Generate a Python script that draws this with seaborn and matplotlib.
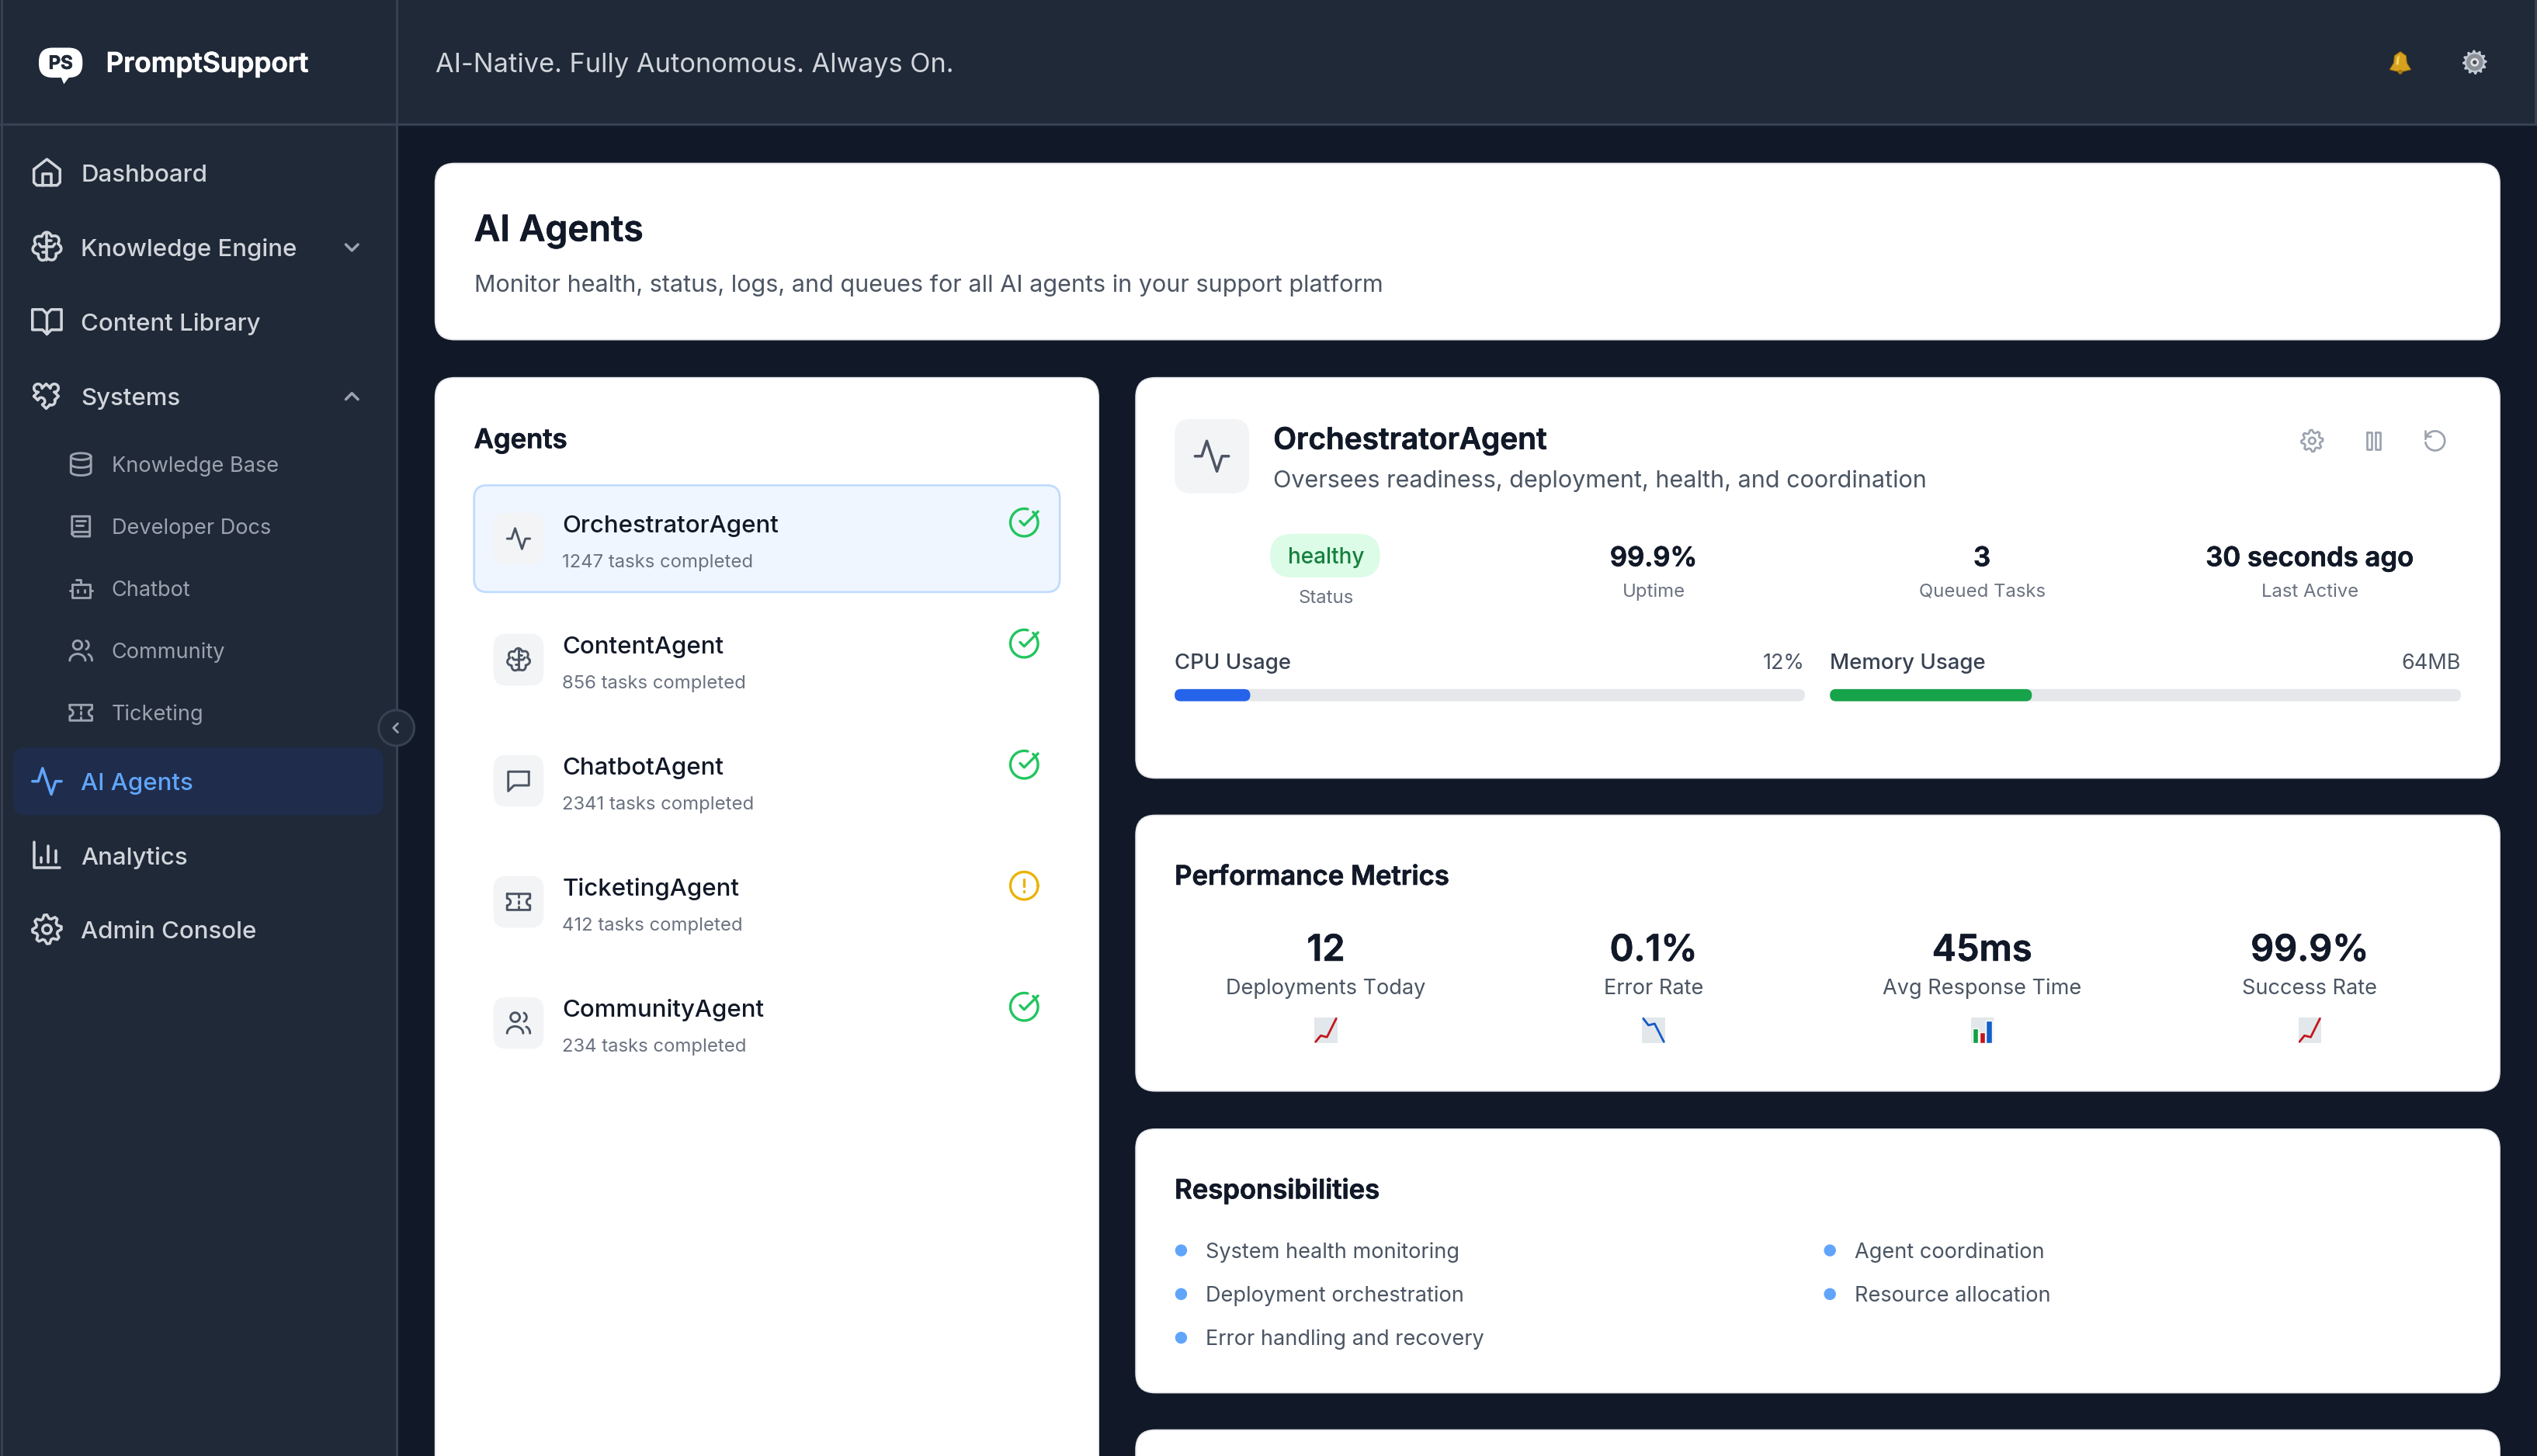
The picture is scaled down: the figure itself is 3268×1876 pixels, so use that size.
import numpy as np
import matplotlib
matplotlib.use("Agg")
import matplotlib.pyplot as plt
import matplotlib.patheffects as pe
import seaborn as sns
from matplotlib.patches import FancyBboxPatch, Circle, Polygon

# === Style Configuration ===
sns.set_theme(style="white")
plt.rcParams["font.family"] = ["Inter", "DejaVu Sans"]

# === Text and values ===
BRAND = "PromptSupport"
TAGLINE = "AI-Native. Fully Autonomous. Always On."
NAV_LABELS = ["Dashboard", "Knowledge Engine", "Content Library", "Systems"]
NAV_ICONS = ["home", "brain", "book", "puzzle"]
SUB_LABELS = ["Knowledge Base", "Developer Docs", "Chatbot", "Community", "Ticketing"]
SUB_ICONS = ["database", "docs", "bot", "users", "ticket"]
LOWER_LABELS = ["Analytics", "Admin Console"]
LOWER_ICONS = ["chart", "gear"]

AGENT_NAMES = ["OrchestratorAgent", "ContentAgent", "ChatbotAgent", "TicketingAgent", "CommunityAgent"]
AGENT_TASKS = [1247, 856, 2341, 412, 234]
AGENT_ICONS = ["activity", "brain", "chat", "ticket", "users"]
AGENT_STATES = ["ok", "ok", "ok", "warn", "ok"]

STAT_VALUES = ["99.9%", "3", "30 seconds ago"]
STAT_LABELS = ["Uptime", "Queued Tasks", "Last Active"]

USAGE_LABELS = ["CPU Usage", "Memory Usage"]
USAGE_TEXT = ["12%", "64MB"]
USAGE_PERCENT = [12, 32]
USAGE_COLORS = ["#2563eb", "#16a34a"]

METRIC_VALUES = ["12", "0.1%", "45ms", "99.9%"]
METRIC_LABELS = ["Deployments Today", "Error Rate", "Avg Response Time", "Success Rate"]
METRIC_EMOJI = ["up", "down", "bars", "up"]

EMOJI_X = [0, 25, 55, 100]
EMOJI_UP = [6, 30, 24, 96]
EMOJI_DOWN = [96, 70, 76, 6]
EMOJI_BARS = [58, 42, 88]

DUTIES_LEFT = ["System health monitoring", "Deployment orchestration", "Error handling and recovery"]
DUTIES_RIGHT = ["Agent coordination", "Resource allocation"]

# === Colours ===
SIDE_BG = "#1f2937"
PAGE_BG = "#111827"
EDGE = "#374151"
INK = "#111827"
GREY_TXT = "#4b5563"
MUTED = "#6b7280"
SUB_NAV = "#9ca3af"
NAV_TXT = "#d1d5db"
BLUE = "#60a5fa"

# The page font runs a little narrower than the Inter installed here
FIT = {11.5: 1.0, 12: 0.955, 14: 0.93, 16: 0.925, 18: 0.925, 20: 0.93, 24: 0.94}

# === Canvas: one axes in CSS pixels of the page ===
W, H = 1568, 900.1
fig = plt.figure(figsize=(32.68, 18.76), dpi=100, facecolor=PAGE_BG)
ax = fig.add_axes([0, 0, 1, 1])
ax.set_xlim(0, W)
ax.set_ylim(H, 0)
ax.axis("off")


def txt(x, y, s, size, color, weight="normal", ha="left", fit=None):
    # y is the middle of the lowercase letters, size is in CSS px
    t = ax.text(x, y + size * 0.33, s, fontsize=size * 1.5 * (fit or FIT[size]), color=color, ha=ha, va="baseline",
                fontweight=weight, zorder=6)
    if weight in ("semibold", "bold"):
        t.set_path_effects([pe.withStroke(linewidth=0.5, foreground=color)])


def box(x0, y0, x1, y1, r, fc, ec="none", lw=0, z=1):
    ax.add_patch(FancyBboxPatch((x0, y0), x1 - x0, y1 - y0, boxstyle=f"round,pad=0,rounding_size={r}",
                                fc=fc, ec=ec, lw=lw * 1.5, mutation_aspect=1, zorder=z))


def arc(cx, cy, rx, ry, a0, a1, n=40):
    t = np.radians(np.linspace(a0, a1, n))
    return np.column_stack([cx + rx * np.cos(t), cy + ry * np.sin(t)])


def gear_outline(teeth=8, r0=10, r1=7.6):
    t = np.linspace(0, 2 * np.pi, teeth * 4 + 1) - np.pi / teeth / 2
    r = np.array([r0, r0, r1, r1] * teeth + [r0])
    return np.column_stack([12 + r * np.cos(t), 12 + r * np.sin(t)])


def puzzle_outline():
    p = np.vstack([[(-6, -6), (-2.2, -6)], arc(0, -8, 2.8, 2.8, 130, 410), [(2.2, -6), (6, -6), (6, -2.2)],
                   arc(8, 0, 2.8, 2.8, -140, 140), [(6, 2.2), (6, 6), (2.2, 6)], arc(0, 5, 2.6, 2.6, 20, 160),
                   [(-2.2, 6), (-6, 6), (-6, 2.2)], arc(-5, 0, 2.6, 2.6, 70, -70), [(-6, -2.2), (-6, -6)]])
    c, s = np.cos(np.pi / 4), np.sin(np.pi / 4)
    return np.column_stack([12 + p[:, 0] * c + p[:, 1] * s - 0.5, 12 - p[:, 0] * s + p[:, 1] * c + 0.5])


def brain_outline():
    t = np.linspace(0, 2 * np.pi, 240)
    r = 7.8 + 2.2 * np.abs(np.sin(3.5 * (t + 0.25)))
    return np.column_stack([12 + r * np.cos(t), 12 + r * np.sin(t)])


# Outline icons on a 24 unit box, as in the icon set the page uses
ICONS = {
    "activity": [[(2, 12), (6, 12), (9, 3), (15, 21), (18, 12), (22, 12)]],
    "home": [[(3, 10), (12, 3), (21, 10), (21, 19), (19, 21), (5, 21), (3, 19), (3, 10)],
             [(9, 21), (9, 13), (15, 13), (15, 21)]],
    "brain": [brain_outline(), [(12, 3), (12, 21)], [(12, 12), (8, 12), (6.5, 10)], [(12, 12), (16, 12), (17.5, 10)],
              [(12, 16), (9, 16)], [(12, 8), (15, 8)]],
    "book": [[(12, 7), (9, 4), (2, 4), (2, 18), (9, 18), (12, 21), (15, 18), (22, 18), (22, 4), (15, 4), (12, 7), (12, 21)]],
    "puzzle": [puzzle_outline()],
    "database": [arc(12, 5, 9, 3, 0, 360), np.vstack([[(3, 5)], arc(12, 19, 9, 3, 180, 0), [(21, 5)]]), arc(12, 12, 9, 3, 180, 0)],
    "docs": [[(4, 19), (4, 3), (20, 3), (20, 21), (6, 21), (4, 19), (6, 17), (20, 17)], [(8, 7), (16, 7)], [(8, 11), (14, 11)]],
    "bot": [[(4, 8), (20, 8), (20, 20), (4, 20), (4, 8)], [(12, 8), (12, 4), (8, 4)], [(2, 14), (4, 14)], [(20, 14), (22, 14)],
            [(9, 13), (9, 15)], [(15, 13), (15, 15)]],
    "users": [arc(9, 7, 4, 4, 0, 360), arc(9, 21, 7, 6, 180, 360), arc(15.5, 7, 3.5, 4, -70, 70), arc(17, 21, 5, 6, -70, 0)],
    "ticket": [np.vstack([[(2, 5), (22, 5), (22, 9)], arc(22, 12, 3, 3, -90, -270), [(22, 15), (22, 19), (2, 19), (2, 15)],
                          arc(2, 12, 3, 3, 90, -90), [(2, 9), (2, 5)]]), [(12, 6), (12, 8)], [(12, 11), (12, 13)], [(12, 16), (12, 18)]],
    "chart": [[(3, 3), (3, 21), (21, 21)], [(8, 17), (8, 14)], [(13, 17), (13, 6)], [(18, 17), (18, 9)]],
    "gear": [gear_outline(), arc(12, 12, 3, 3, 0, 360)],
    "chat": [[(21, 4), (3, 4), (3, 21), (8, 16), (21, 16), (21, 4)]],
    "check": [arc(12, 12, 10, 10, -50, 285), [(9, 11), (12, 14), (22, 4)]],
    "alert": [arc(12, 12, 10, 10, 0, 360), [(12, 7.5), (12, 12.5)], [(12, 16), (12, 16.2)]],
    "pause": [[(6, 4), (10, 4), (10, 20), (6, 20), (6, 4)], [(14, 4), (18, 4), (18, 20), (14, 20), (14, 4)]],
    "rotate": [arc(12, 12, 9, 9, -170, 170), [(3, 3), (3, 8), (8, 8)]],
    "down": [[(6, 9), (12, 15), (18, 9)]],
    "upc": [[(6, 15), (12, 9), (18, 15)]],
    "left": [[(15, 6), (9, 12), (15, 18)]],
}


def icon(name, cx, cy, size, color, lw=1.7):
    k = size / 24
    for part in ICONS[name]:
        p = np.asarray(part, dtype=float)
        ax.plot(cx + (p[:, 0] - 12) * k, cy + (p[:, 1] - 12) * k, color=color, lw=lw * 1.5,
                solid_capstyle="round", solid_joinstyle="round", zorder=6)


def inset(x0, y0, x1, y1):
    a = fig.add_axes([x0 / W, 1 - y1 / H, (x1 - x0) / W, (y1 - y0) / H], zorder=5)
    a.set_facecolor("none")
    return a


def emoji_chart(kind, cx, cy):
    a = inset(cx - 7, cy - 8, cx + 7, cy + 8)
    a.set_facecolor("#e2e7eb")
    if kind == "bars":
        sns.barplot(x=list("abc"), y=EMOJI_BARS, hue=list("abc"), palette=["#12a045", "#c4161c", "#1260c8"],
                    saturation=1, width=0.8, legend=False, ax=a)
        a.set_xlim(-0.65, 2.65)
    else:
        vals = EMOJI_UP if kind == "up" else EMOJI_DOWN
        sns.lineplot(x=EMOJI_X, y=vals, color="#c4161c" if kind == "up" else "#1559c8", lw=2.0, ax=a)
        a.set_xlim(-5, 105)
    a.set_ylim(0, 100)
    a.set_xticks([])
    a.set_yticks([])
    a.set_xlabel("")
    a.set_ylabel("")
    for sp in a.spines.values():
        sp.set_visible(False)


# === Page frame ===
ax.add_patch(plt.Rectangle((0, 0), 245, H, fc=SIDE_BG, ec="none", zorder=0.5))
ax.add_patch(plt.Rectangle((245, 0), W - 245, 77, fc=SIDE_BG, ec="none", zorder=0.5))
ax.plot([245.0, 245.0], [0, H], color=EDGE, lw=2.2, zorder=1)
ax.plot([0, W], [77.0, 77.0], color=EDGE, lw=2.2, zorder=1)
ax.plot([0.8, 0.8], [0, H], color=EDGE, lw=2.2, zorder=1)
ax.plot([1567.2, 1567.2], [0, 77], color=EDGE, lw=2.2, zorder=1)

# === Brand and header ===
box(24, 29.5, 51, 48, 8.5, "white", z=3)
ax.add_patch(Polygon([(37, 46), (44, 46), (39.5, 52)], fc="white", ec="none", zorder=3))
txt(37.5, 38.8, "PS", 11.5, "#1f2937", "bold", ha="center")
txt(65.5, 38.5, BRAND, 18, "white", "semibold", fit=0.94)
txt(269, 38.5, TAGLINE, 18, NAV_TXT, fit=0.917)

# Bell emoji
ax.add_patch(Polygon([(1477, 43), (1479.5, 39), (1480, 34.5), (1483.5, 32), (1487, 34.5), (1487.5, 39), (1490, 43), (1483.5, 44.5)],
                     fc="#d6a21e", ec="#a87a10", lw=0.8, zorder=5))
ax.add_patch(Circle((1483.5, 44.5), 1.4, fc="#a87a10", ec="none", zorder=5))
ax.add_patch(Polygon([(1481.5, 35.5), (1483, 34), (1482.5, 40), (1480.8, 40)], fc="#f3d65c", ec="none", zorder=6))
# Gear emoji
gear = gear_outline(12, 11.5, 9.4)
ax.add_patch(Polygon(np.column_stack([1529.5 + (gear[:, 0] - 12) * 0.66, 38.5 + (gear[:, 1] - 12) * 0.66]), fc="#c3ccd6", ec="none", zorder=5))
ax.add_patch(Circle((1529.5, 38.5), 5.2, fc="#8b9097", ec="none", zorder=6))
ax.add_patch(Circle((1529.5, 38.5), 2.6, fc="#e2e5e8", ec="none", zorder=6))
ax.add_patch(Circle((1529.5, 38.5), 1.3, fc="#4a4d52", ec="none", zorder=6))

# === Sidebar ===
for i, (label, name) in enumerate(zip(NAV_LABELS, NAV_ICONS)):
    y = 107 + i * 46
    icon(name, 29, y - 0.5, 21.5, NAV_TXT)
    txt(50, y, label, 16, NAV_TXT, "medium", fit=0.935)
icon("down", 217.5, 153, 15, SUB_NAV)
icon("upc", 217.5, 245, 15, SUB_NAV)

for i, (label, name) in enumerate(zip(SUB_LABELS, SUB_ICONS)):
    y = 287 + i * 38.4
    icon(name, 50, y, 16.5, SUB_NAV, 1.4)
    txt(69, y, label, 14, SUB_NAV)

box(8, 462, 237, 504, 8, "#1f2c4b", z=2)
icon("activity", 29, 483, 21.5, BLUE)
txt(50, 483, "AI Agents", 16, BLUE, "medium", fit=0.935)
for i, (label, name) in enumerate(zip(LOWER_LABELS, LOWER_ICONS)):
    y = 529 + i * 46
    icon(name, 29, y - 0.5, 21.5, NAV_TXT)
    txt(50, y, label, 16, NAV_TXT, "medium", fit=0.935)

ax.add_patch(Circle((245, 450), 11, fc=SIDE_BG, ec=EDGE, lw=2.2, zorder=4))
icon("left", 244.5, 450, 11, SUB_NAV, 1.3)

# === Cards ===
for c in [(269, 101, 1545, 210), (269, 233.5, 679, 960), (702, 233.5, 1545, 481),
          (702, 504, 1545, 674.5), (702, 698, 1545, 861), (702, 884, 1545, 960)]:
    box(*c, 12, "white", "#e5e7eb", 0.8)

txt(293, 141, "AI Agents", 24, INK, "semibold", fit=0.925)
txt(293, 175, "Monitor health, status, logs, and queues for all AI agents in your support platform", 16, GREY_TXT, fit=0.917)

# === Agents list ===
txt(293, 271, "Agents", 18, INK, "semibold")
box(293, 300, 655, 366, 8, "#eff6ff", "#bfdbfe", 1.3, z=2)
for i, name in enumerate(AGENT_NAMES):
    y = 333 + i * 74.85
    box(305, y - 16, 336, y + 16, 8, "#f3f4f6", z=3)
    icon(AGENT_ICONS[i], 320.5, y, 17, GREY_TXT, 1.4)
    txt(347.5, y - 9, name, 16, INK, "medium", fit=0.935)
    txt(347.5, y + 14, f"{AGENT_TASKS[i]} tasks completed", 12, MUTED)
    if AGENT_STATES[i] == "ok":
        icon("check", 633, y - 10, 20.5, "#22c55e", 1.6)
    else:
        icon("alert", 633, y - 10, 20.5, "#eab308", 1.6)

# === Agent detail card ===
box(726, 259, 772, 305, 10, "#f3f4f6", z=3)
icon("activity", 749, 282, 25, GREY_TXT, 1.7)
txt(787, 271, AGENT_NAMES[0], 20, INK, "semibold")
txt(787, 296, "Oversees readiness, deployment, health, and coordination", 16, GREY_TXT, fit=0.917)
for name, x in zip(["gear", "pause", "rotate"], [1429, 1467, 1505]):
    icon(name, x, 272.5, 16, SUB_NAV, 1.3)

box(785, 330, 853, 357, 13.5, "#dcfce7", z=3)
txt(819.5, 343.5, "healthy", 14, "#15803d", "medium", ha="center", fit=0.96)
txt(819.5, 369, "Status", 12, MUTED, ha="center")
for x, v, label in zip([1022, 1225, 1427.5], STAT_VALUES, STAT_LABELS):
    txt(x, 344, v, 18, INK, "semibold", ha="center")
    txt(x, 365, label, 12, MUTED, ha="center")

# Usage bars
for (x0, x1), label, shown, pct, col in zip([(726, 1115.5), (1131, 1521)], USAGE_LABELS, USAGE_TEXT, USAGE_PERCENT, USAGE_COLORS):
    txt(x0, 409, label, 14, "#374151", "medium", fit=0.945)
    txt(x1, 409, shown, 14, GREY_TXT, ha="right")
    a = inset(x0, 426, x1, 433.5)
    sns.barplot(x=[pct], y=[label], color=col, saturation=1, width=1, orient="h", ax=a)
    a.set_xlim(0, 100)
    a.set_ylim(0.5, -0.5)
    a.axis("off")
    box(x0, 426, x1, 433.5, 3.7, "#e5e7eb", z=3)
    bar = a.patches[0]
    bar.set_visible(False)
    fill = (x1 - x0) * bar.get_width() / 100
    box(x0, 426, x0 + fill, 433.5, 3.7, col, z=4)

# === Performance metrics ===
txt(726, 541, "Performance Metrics", 18, INK, "semibold")
for x, v, label, kind in zip([819.5, 1022, 1225, 1427.5], METRIC_VALUES, METRIC_LABELS, METRIC_EMOJI):
    txt(x, 586, v, 24, INK, "semibold", ha="center")
    txt(x, 610, label, 14, GREY_TXT, ha="center")
    emoji_chart(kind, x, 637)

# === Responsibilities ===
txt(726, 735, "Responsibilities", 18, INK, "semibold")
for x, items in zip([730, 1131], [DUTIES_LEFT, DUTIES_RIGHT]):
    for i, item in enumerate(items):
        y = 773 + i * 27
        ax.add_patch(Circle((x, y), 3.7, fc=BLUE, ec="none", zorder=5))
        txt(x + 15.3, y, item, 14, GREY_TXT)

fig.savefig("out.png", dpi=100, facecolor=PAGE_BG)
